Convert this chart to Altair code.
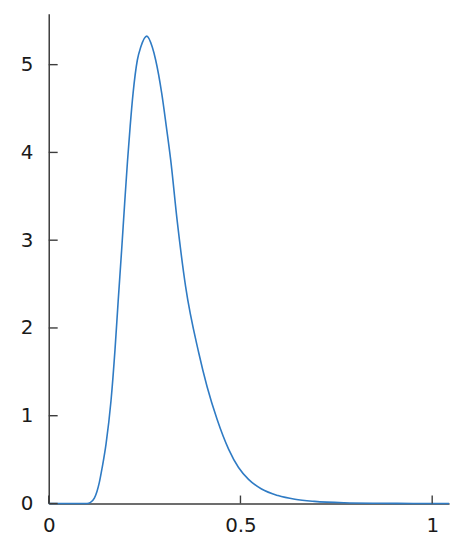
import altair as alt
import pandas as pd

# curve
xs = [0.0, 0.05, 0.10, 0.108, 0.119, 0.126, 0.132, 0.139, 0.1495, 0.1624, 0.1728, 0.181,
      0.190, 0.198, 0.2054, 0.2124, 0.220, 0.231, 0.240, 0.2557, 0.270, 0.279, 0.2946,
      0.3065, 0.3179, 0.335, 0.357, 0.391, 0.413, 0.439, 0.469, 0.495, 0.521, 0.555,
      0.598, 0.642, 0.693, 0.771, 0.857, 0.95, 1.044]
ys = [0.0, 0.0, 0.0, 0.01, 0.06, 0.14, 0.24, 0.40, 0.68, 1.17, 1.75, 2.30,
      2.88, 3.42, 3.90, 4.30, 4.675, 5.05, 5.20, 5.325, 5.20, 5.05, 4.675,
      4.30, 3.92, 3.22, 2.47, 1.72, 1.33, 0.96, 0.62, 0.41, 0.275, 0.165,
      0.09, 0.048, 0.024, 0.008, 0.0025, 0.0006, 0.0]

x_ticks = [0, 0.5, 1]
y_ticks = [0, 1, 2, 3, 4, 5]

W, H = 403, 493
LINE = "#2f7bc4"
AXIS = "#3c3c3c"

df = pd.DataFrame({"x": xs, "y": ys})
xscale = alt.Scale(domain=[0, 1.044], nice=False, zero=False)
yscale = alt.Scale(domain=[0, 5.58], nice=False)

curve = alt.Chart(df).mark_line(color=LINE, strokeWidth=1.6, interpolate="monotone").encode(
    x=alt.X("x:Q", scale=xscale,
            axis=alt.Axis(values=x_ticks, title=None, ticks=False, grid=False,
                          labelPadding=12, format="~g", labelFlush=False)),
    y=alt.Y("y:Q", scale=yscale,
            axis=alt.Axis(values=y_ticks, title=None, ticks=False, grid=False,
                          labelPadding=16, format="~g", labelFlush=False)),
)

xt = alt.Chart(pd.DataFrame({"t": x_ticks})).mark_rule(color=AXIS, strokeWidth=1.4).encode(
    x=alt.X("t:Q", scale=xscale), y=alt.value(H), y2=alt.value(H - 8)
)
yt = alt.Chart(pd.DataFrame({"t": y_ticks})).mark_rule(color=AXIS, strokeWidth=1.4).encode(
    y=alt.Y("t:Q", scale=yscale), x=alt.value(0), x2=alt.value(9)
)

chart = alt.layer(curve, xt, yt).properties(
    width=W, height=H,
    autosize=alt.AutoSizeParams(type="none"),
    padding={"left": 41, "top": 4, "right": 10, "bottom": 40},
).configure_view(stroke=None).configure_axis(
    domainColor=AXIS, domainWidth=1.5, labelFont="DejaVu Sans", labelFontSize=20,
    labelColor="#1a1a1a"
)

chart.save("out.html", embed_options={"renderer": "svg", "actions": False})
